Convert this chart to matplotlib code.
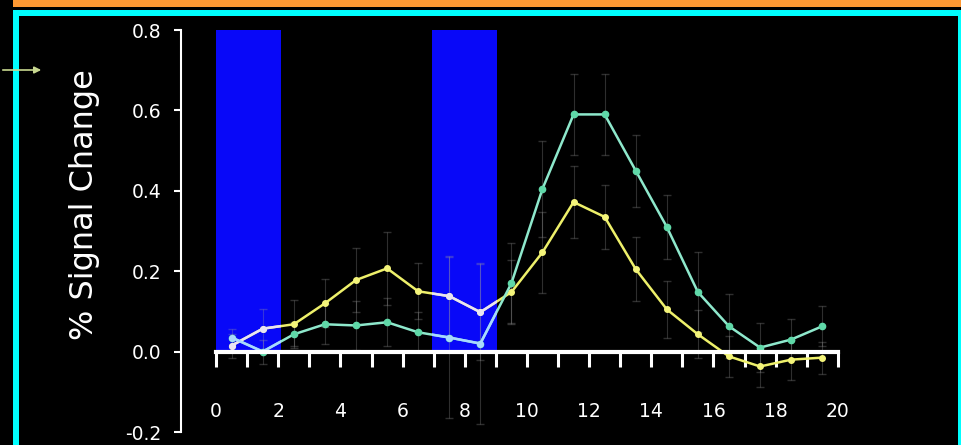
import numpy as np
import matplotlib
matplotlib.use("Agg")
import matplotlib.pyplot as plt
from matplotlib.patches import Rectangle

# time points (s) and mean % signal change per condition
t = [0.5, 1.5, 2.5, 3.5, 4.5, 5.5, 6.5, 7.5, 8.5, 9.5,
     10.5, 11.5, 12.5, 13.5, 14.5, 15.5, 16.5, 17.5, 18.5, 19.5]
teal = [0.035, 0.0, 0.043, 0.068, 0.065, 0.073, 0.048, 0.035, 0.02, 0.17,
        0.405, 0.59, 0.59, 0.45, 0.31, 0.148, 0.063, 0.01, 0.03, 0.063]
yellow = [0.015, 0.057, 0.068, 0.12, 0.178, 0.207, 0.15, 0.138, 0.098, 0.148,
          0.247, 0.372, 0.335, 0.205, 0.105, 0.043, -0.012, -0.037, -0.02, -0.015]
teal_err = [0.02, 0.03, 0.03, 0.05, 0.06, 0.06, 0.05, 0.2, 0.2, 0.1,
            0.12, 0.1, 0.1, 0.09, 0.08, 0.1, 0.08, 0.06, 0.05, 0.05]
yellow_err = [0.03, 0.05, 0.06, 0.06, 0.08, 0.09, 0.07, 0.1, 0.12, 0.08,
              0.1, 0.09, 0.08, 0.08, 0.07, 0.06, 0.05, 0.05, 0.05, 0.04]
# stimulus blocks (start, end) in s
blocks = [(0.0, 2.1), (6.95, 9.05)]

W, H = 961, 445
fig = plt.figure(figsize=(W / 100, H / 100), dpi=100, facecolor="black")


def px(x0, y0, w, h):
    """pixel box (top-left origin) -> figure fraction rect"""
    return (x0 / W, 1 - (y0 + h) / H, w / W, h / H)


# ── frame decorations ───────────────────────────────────────────────────────
for (x0, y0, w, h), col in [((13, 0, 948, 7), "#ff9933"),
                            ((13, 10, 948, 6), "#00ffff"),
                            ((13, 10, 6, 435), "#00ffff"),
                            ((958, 10, 3, 435), "#00ffff")]:
    fx, fy, fw, fh = px(x0, y0, w, h)
    fig.add_artist(Rectangle((fx, fy), fw, fh, transform=fig.transFigure,
                             color=col, lw=0, zorder=0))
fig.add_artist(matplotlib.patches.FancyArrowPatch(
    (0, 1 - 70 / H), (44 / W, 1 - 70 / H), transform=fig.transFigure,
    arrowstyle="-|>", mutation_scale=10, color="#c8d890", lw=1.2))

# ── axes ─────────────────────────────────────────────────────────────────────
ax = fig.add_axes([181 / W, 13 / H, 663 / W, 402 / H], facecolor="black")
ax.set_xlim(-1.13, 20.2)
ax.set_ylim(-0.2, 0.8)

patches = []
for a, b in blocks:
    r = Rectangle((a, 0), b - a, 0.8, color="#0808f8", lw=0, zorder=1)
    ax.add_patch(r)
    patches.append(r)

ax.errorbar(t, teal, yerr=teal_err, fmt="none", ecolor="#9a9a9a",
            elinewidth=0.8, capsize=3, alpha=0.3, zorder=2)
ax.errorbar(t, yellow, yerr=yellow_err, fmt="none", ecolor="#9a9a9a",
            elinewidth=0.8, capsize=3, alpha=0.3, zorder=2)

ax.plot(t, yellow, color="#eef06a", lw=1.8, marker="o", ms=4,
        mfc="#f4f47a", mec="#f4f47a", zorder=3)
ax.plot(t, teal, color="#8ee8cc", lw=1.8, marker="o", ms=4.5,
        mfc="#5fd8a8", mec="#5fd8a8", zorder=4)
# lines look washed out where they cross the blue blocks
for p in patches:
    for ys, c in [(yellow, "#e8e4f4"), (teal, "#a8d8ff")]:
        ln, = ax.plot(t, ys, color=c, lw=1.8, marker="o", ms=4,
                      mfc=c, mec=c, zorder=5)
        ln.set_clip_path(p)

for s in ["top", "right"]:
    ax.spines[s].set_visible(False)
ax.spines["left"].set_color("white")
ax.spines["left"].set_linewidth(1.5)
ax.spines["left"].set_bounds(-0.2, 0.8)
ax.spines["bottom"].set_position(("data", 0))
ax.spines["bottom"].set_bounds(0, 20)
ax.spines["bottom"].set_color("white")
ax.spines["bottom"].set_linewidth(3)
ax.spines["bottom"].set_zorder(6)

ax.set_yticks([-0.2, 0.0, 0.2, 0.4, 0.6, 0.8])
ax.set_yticklabels(["-0.2", "0.0", "0.2", "0.4", "0.6", "0.8"])
ax.set_xticks(range(0, 21, 2))
ax.set_xticks(range(1, 21, 2), minor=True)
ax.tick_params(axis="y", colors="white", length=5, width=1.5, pad=9,
               labelsize=13.5)
ax.tick_params(axis="x", which="both", colors="white", length=11, width=2.2,
               direction="out")
ax.tick_params(axis="x", which="major", pad=25, labelsize=13.5)

fig.text(85 / W, 1 - 205 / H, "% Signal Change", rotation=90, color="white",
         fontsize=23, ha="center", va="center")

fig.savefig("out.png", dpi=100, facecolor="black")
